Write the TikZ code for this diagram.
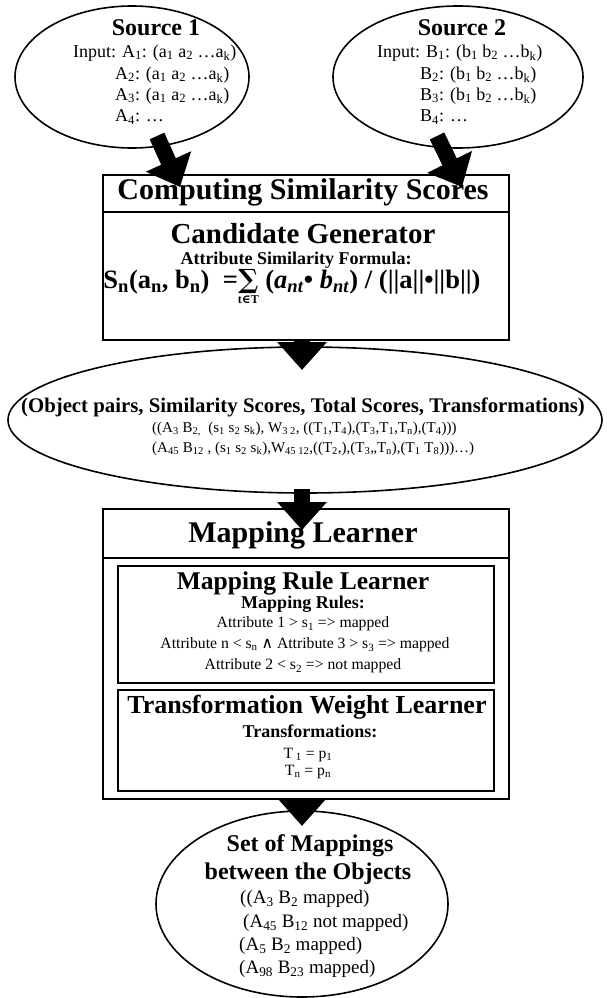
\documentclass[tikz,border=0pt]{standalone}
\usepackage{fontspec}
\setmainfont{Liberation Serif}
\newfontfamily\symfont{DejaVu Serif}
\usetikzlibrary{shapes.geometric,arrows.meta}
\newcommand{\sbs}[1]{\textsubscript{#1}}
\newcommand{\fs}[1]{\fontsize{#1}{#1}\selectfont}
\tikzset{
  ell/.style={draw, ellipse, line width=1.6pt, inner sep=0pt},
  boxx/.style={draw, line width=1.6pt, inner sep=0pt, anchor=north west},
  fat/.style={line width=16pt, -{Triangle[length=28pt,width=48pt]}},
  bigtitle/.style={font=\fs{30}\bfseries, inner sep=0pt},
  midtitle/.style={font=\fs{26}\bfseries, inner sep=0pt},
  srctitle/.style={font=\fs{24}\bfseries, inner sep=0pt},
  lbl/.style={font=\fs{18}\bfseries, inner sep=0pt},
  txt/.style={font=\fs{18}, inner sep=0pt},
  small/.style={font=\fs{15.7}, inner sep=0pt},
  pairs/.style={font=\fs{15}, inner sep=0pt, anchor=west},
  maps/.style={font=\fs{19}, inner sep=0pt, anchor=west},
}
\begin{document}
\begin{tikzpicture}[x=1pt,y=-1pt]
\useasboundingbox (0,0) rectangle (606,998);
% ---------- Source 1
\node[ell, minimum width=234pt, minimum height=142pt] (s1) at (132,77) {};
\node[srctitle] (s1t) at (156,28) {Source 1};
\node[txt, anchor=west] (s1a) at (73,53) {Input: A\sbs{1}: (a\sbs{1} a\sbs{2} …a\sbs{k})};
\node[txt, anchor=west] (s1b) at (115,75) {A\sbs{2}: (a\sbs{1} a\sbs{2} …a\sbs{k})};
\node[txt, anchor=west] (s1c) at (115,96) {A\sbs{3}: (a\sbs{1} a\sbs{2} …a\sbs{k})};
\node[txt, anchor=west] (s1d) at (115,117) {A\sbs{4}: …};
% ---------- Source 2
\node[ell, minimum width=250pt, minimum height=142pt] (s2) at (458,77) {};
\node[srctitle] (s2t) at (462,28) {Source 2};
\node[txt, anchor=west] (s2a) at (377,53) {Input: B\sbs{1}: (b\sbs{1} b\sbs{2} …b\sbs{k})};
\node[txt, anchor=west] (s2b) at (420,75) {B\sbs{2}: (b\sbs{1} b\sbs{2} …b\sbs{k})};
\node[txt, anchor=west] (s2c) at (420,96) {B\sbs{3}: (b\sbs{1} b\sbs{2} …b\sbs{k})};
\node[txt, anchor=west] (s2d) at (420,117) {B\sbs{4}: …};
% ---------- Computing Similarity Scores
\node[boxx, minimum width=406pt, minimum height=165pt] (b1) at (102,174) {};
\draw[line width=1.6pt] ([yshift=-38pt]b1.north west) -- ([yshift=-38pt]b1.north east);
\node[bigtitle] (b1t) at (303,192) {Computing Similarity Scores};
\node[font=\fs{29}\bfseries, inner sep=0pt] (cg) at (303,234) {Candidate Generator};
\node[lbl] (asf) at (296,260) {Attribute Similarity Formula:};
\node[font=\fs{26.5}\bfseries, inner sep=0pt] (frm) at (292,287)
  {S\sbs{n}(a\sbs{n}, b\sbs{n})\ \ =$\mathop{\hbox{\symfont ∑}}\limits_{\hbox{\fs{12}\bfseries t{\symfont ∈}T}}$ (\textit{a}\sbs{\textit{nt}}• \textit{b}\sbs{\textit{nt}}) / (||a||•||b||)};
% ---------- Object pairs ellipse
\node[ell, minimum width=594pt, minimum height=146pt] (op) at (305,420) {};
\node[font=\fs{20.8}\bfseries, inner sep=0pt] (opt) at (303,407) {(Object pairs, Similarity Scores, Total Scores, Transformations)};
\node[pairs] (op1) at (152,429)
  {((A\sbs{3} B\sbs{2,}\ \ (s\sbs{1} s\sbs{2} s\sbs{k}), W\sbs{3 2}, ((T\sbs{1},T\sbs{4}),(T\sbs{3},T\sbs{1},T\sbs{n}),(T\sbs{4})))};
\node[pairs] (op2) at (152,449)
  {(A\sbs{45} B\sbs{12} , (s\sbs{1} s\sbs{2} s\sbs{k}),W\sbs{45 12},((T\sbs{2},),(T\sbs{3},,T\sbs{n}),(T\sbs{1} T\sbs{8})))…)};
% ---------- Mapping Learner
\node[boxx, minimum width=406pt, minimum height=290pt] (b2) at (102,508) {};
\draw[line width=1.6pt] ([yshift=-50pt]b2.north west) -- ([yshift=-50pt]b2.north east);
\node[bigtitle] (b2t) at (303,535) {Mapping Learner};
\node[boxx, minimum width=376pt, minimum height=117pt] (mr) at (117,565) {};
\node[font=\fs{25.5}\bfseries, inner sep=0pt] (mrt) at (303,583) {Mapping Rule Learner};
\node[lbl] (mrl) at (303,604) {Mapping Rules:};
\node[small] (r1) at (303,624) {Attribute 1 > s\sbs{1} => mapped};
\node[small] (r2) at (305,645) {Attribute n < s\sbs{n} {\symfont ∧} Attribute 3 > s\sbs{3} => mapped};
\node[small] (r3) at (303,666) {Attribute 2 < s\sbs{2} => not mapped};
\node[boxx, minimum width=376pt, minimum height=101pt] (tw) at (117,689) {};
\node[midtitle] (twt) at (307,707) {Transformation Weight Learner};
\node[lbl] (twl) at (310,731) {Transformations:};
\node[small] (t1) at (308,755) {T\,\sbs{1} = p\sbs{1}};
\node[small] (t2) at (308,772) {T\sbs{n} = p\sbs{n}};
% ---------- Set of Mappings
\node[ell, minimum width=292pt, minimum height=186pt] (sm) at (302,904) {};
\node[font=\fs{24}\bfseries, inner sep=0pt] (smt1) at (310,846) {Set of Mappings};
\node[font=\fs{24}\bfseries, inner sep=0pt] (smt2) at (308,874) {between the Objects};
\node[maps] (m1) at (240,899) {((A\sbs{3} B\sbs{2} mapped)};
\node[maps] (m2) at (243,923) {(A\sbs{45} B\sbs{12} not mapped)};
\node[maps] (m3) at (239,946) {(A\sbs{5} B\sbs{2} mapped)};
\node[maps] (m4) at (239,969) {(A\sbs{98} B\sbs{23} mapped)};
% ---------- arrows
\coordinate (a1s) at (157,136);
\coordinate (a1e) at (180,187);
\coordinate (a2s) at (437,136);
\coordinate (a2e) at (462,187);
\coordinate (a3s) at (b1.south -| 302,0);
\coordinate (a3e) at (302,370);
\coordinate (a4s) at (302,489);
\coordinate (a4e) at (302,530);
\coordinate (a5s) at (b2.south -| 302,0);
\coordinate (a5e) at (302,826);
\draw[fat] (a1s) -- (a1e);
\draw[fat] (a2s) -- (a2e);
\draw[fat] (a3s) -- (a3e);
\draw[fat] (a4s) -- (a4e);
\draw[fat] (a5s) -- (a5e);
\end{tikzpicture}
\end{document}
